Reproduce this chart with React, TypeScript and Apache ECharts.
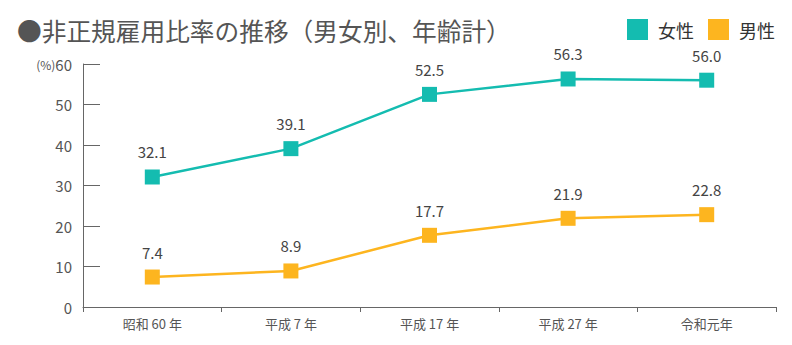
import React, { useEffect, useRef } from "react";
import * as echarts from "echarts";

const categories = ["昭和 60 年", "平成 7 年", "平成 17 年", "平成 27 年", "令和元年"];
const femaleValues = [32.1, 39.1, 52.5, 56.3, 56.0];
const maleValues = [7.4, 8.9, 17.7, 21.9, 22.8];
const seriesNames = ["女性", "男性"];
const titleText = "●非正規雇用比率の推移（男女別、年齢計）";

const TEAL = "#14bcb0";
const ORANGE = "#fdb51f";
const FONT = "'Noto Sans CJK JP', 'Noto Sans', sans-serif";

export default function App() {
  const ref = useRef<HTMLDivElement>(null);
  useEffect(() => {
    if (!ref.current) return;
    const chart = echarts.init(ref.current, null, { renderer: "svg" });
    const mkSeries = (name: string, data: number[], color: string) => ({
      name,
      type: "line",
      data,
      symbol: "rect",
      symbolSize: 15,
      lineStyle: { color, width: 2.5 },
      itemStyle: { color },
      label: {
        show: true,
        position: "top",
        distance: 10,
        color: "#444",
        fontSize: 15,
        fontFamily: FONT,
        formatter: (p: any) => p.value.toFixed(1),
      },
    });
    chart.setOption({
      animation: false,
      title: {
        text: titleText,
        left: 9,
        top: 7,
        padding: 0,
        textStyle: { color: "#555", fontSize: 24.7, fontWeight: "normal", fontFamily: FONT, lineHeight: 30 },
      },
      legend: {
        data: seriesNames.map((n, i) => ({ name: n, icon: "rect", itemStyle: { color: i === 0 ? TEAL : ORANGE } })),
        right: 9,
        top: 11,
        padding: 0,
        itemWidth: 21,
        itemHeight: 21,
        itemGap: 14,
        textStyle: { color: "#333", fontSize: 18, fontFamily: FONT, padding: [0, 0, 0, 5] },
      },
      grid: { left: 75, right: 8, top: 56, bottom: 30 },
      xAxis: {
        type: "category",
        data: categories,
        boundaryGap: true,
        axisLine: { lineStyle: { color: "#666", width: 1 } },
        axisTick: { show: true, length: 5, lineStyle: { color: "#666" } },
        axisLabel: { color: "#555", fontSize: 13, fontFamily: FONT, margin: 10 },
      },
      yAxis: {
        type: "value",
        min: 0,
        max: 60,
        interval: 10,
        splitLine: { show: false },
        axisLine: { show: true, lineStyle: { color: "#666", width: 1 } },
        axisTick: { show: true, inside: true, length: 17, lineStyle: { color: "#666" } },
        axisLabel: {
          color: "#555",
          fontSize: 15,
          fontFamily: FONT,
          margin: 11,
          formatter: (v: number) => (v === 60 ? "{u|(%)}60" : String(v)),
          rich: { u: { fontSize: 12, color: "#555", fontFamily: FONT } },
        },
      },
      series: [mkSeries(seriesNames[0], femaleValues, TEAL), mkSeries(seriesNames[1], maleValues, ORANGE)],
    });
    return () => chart.dispose();
  }, []);
  return <div ref={ref} style={{ width: 776, height: 329 }} />;
}
